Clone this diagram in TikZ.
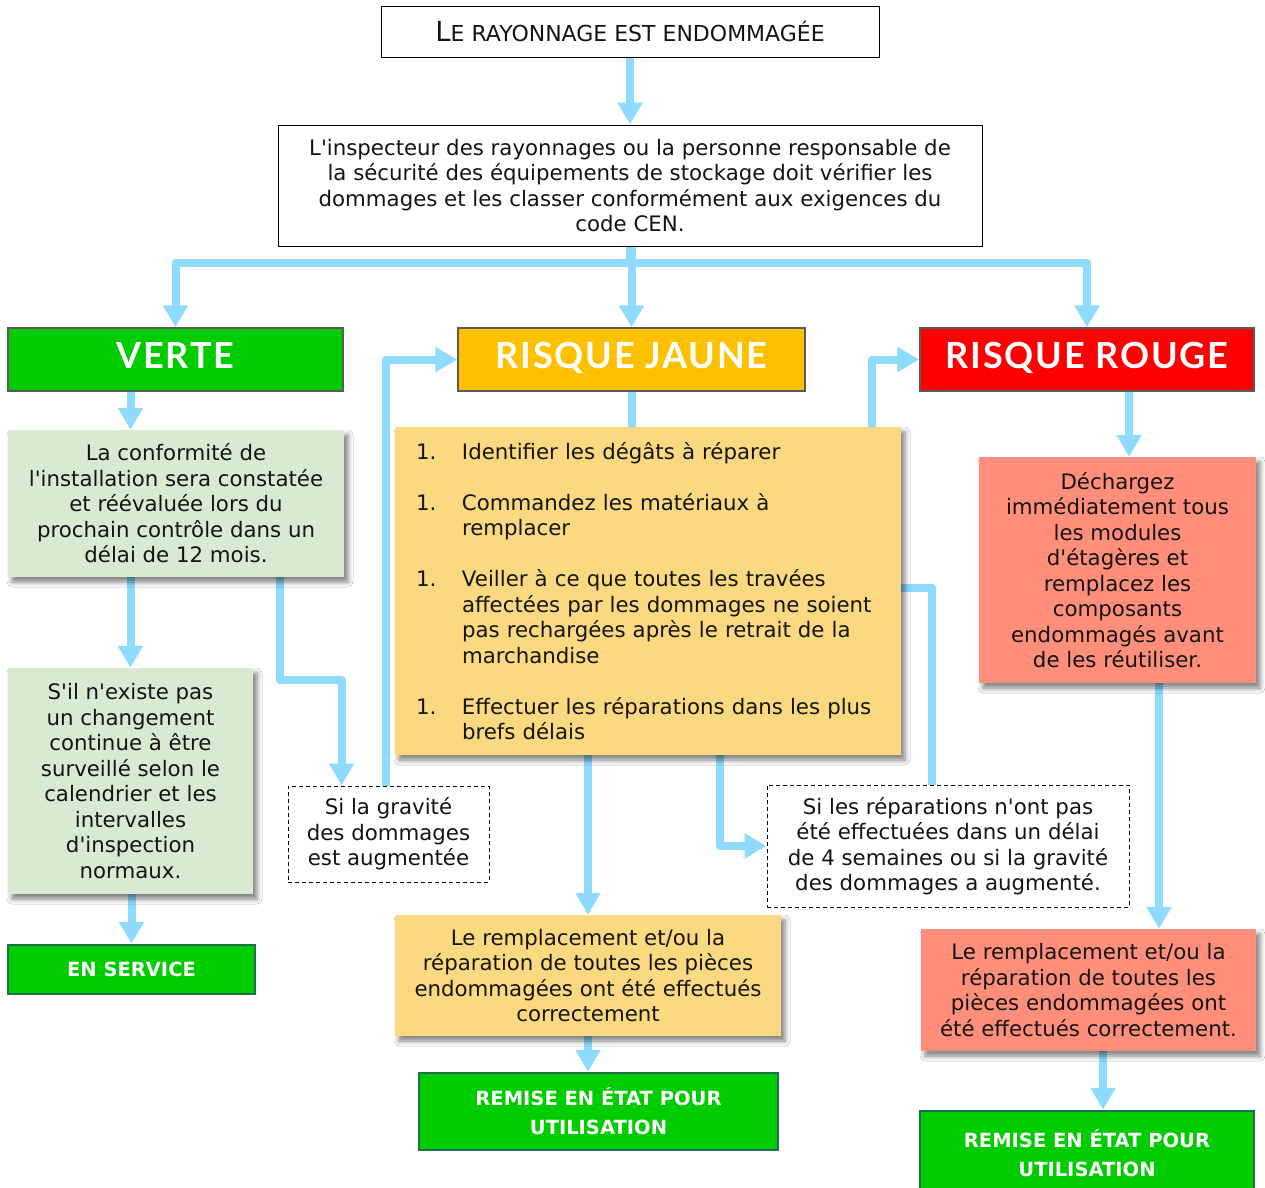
\documentclass[tikz,border=0pt]{standalone}
\usepackage{fontspec}
\setmainfont{DejaVu Sans}[Ligatures=TeXOff]
\newfontfamily\headfont{Lato}[LetterSpace=5]
\usetikzlibrary{arrows.meta,shadows.blur}
\definecolor{arrowblue}{HTML}{8EDBFF}
\definecolor{hdgreen}{HTML}{00CC00}
\definecolor{hdyellow}{HTML}{FFC000}
\definecolor{hdred}{HTML}{FF0000}
\definecolor{pgreen}{HTML}{D9EAD3}
\definecolor{pyellow}{HTML}{FBD980}
\definecolor{pred}{HTML}{FF8F7A}
\definecolor{hdborder}{HTML}{5A5A5A}
\definecolor{dkgreen}{HTML}{1E6F50}
\definecolor{txt}{HTML}{141414}
\pgfdeclarelayer{bg}
\pgfsetlayers{bg,main}
\begin{document}
\begin{tikzpicture}[x=1pt,y=-1pt,
  box/.style={rectangle, inner sep=0pt, align=center, text=txt,
    font=\fontsize{21.3}{25.5}\selectfont},
  plainbox/.style={box, draw=black, line width=1pt, fill=white},
  pastel/.style={box, blur shadow={shadow xshift=4pt, shadow yshift=-5pt,
    shadow blur radius=5pt, shadow opacity=50}},
  headbox/.style={rectangle, inner sep=0pt, draw=hdborder, line width=1.5pt, text=white,
    text height=26pt, text depth=8pt,
    font=\headfont\bfseries\fontsize{36}{40}\selectfont},
  donebox/.style={rectangle, inner sep=0pt, fill=hdgreen, draw=dkgreen, line width=2.5pt,
    text=white, align=center, font=\bfseries\fontsize{19.5}{29}\selectfont},
  notebox/.style={box, draw=black, line width=1pt, dash pattern=on 4pt off 3pt, fill=white},
  conn/.style={draw=arrowblue, line width=8pt, line join=round,
    -{Triangle[width=24pt,length=22pt]}},
  link/.style={draw=arrowblue, line width=8pt, line join=round}
]
\useasboundingbox (0,0) rectangle (1265,1187);

% title and inspector
\node[plainbox, minimum width=498pt, minimum height=51pt] (T) at (630,31.5)
  {{\fontsize{27.5}{30}\selectfont L}{\fontsize{22}{30}\selectfont E RAYONNAGE EST ENDOMMAGÉE}};
\node[plainbox, minimum width=704pt, minimum height=121pt] (insp) at (630,185.5)
  {L'inspecteur des rayonnages ou la personne responsable de\\
   la sécurité des équipements de stockage doit vérifier les\\
   dommages et les classer conformément aux exigences du\\
   code CEN.};

% headers
\node[headbox, fill=hdgreen, minimum width=335pt, minimum height=63pt] (V) at (175.5,359.5) {VERTE};
\node[headbox, fill=hdyellow, minimum width=347pt, minimum height=63pt] (J) at (631.5,359.5) {RISQUE JAUNE};
\node[headbox, fill=hdred, minimum width=334pt, minimum height=63pt] (R) at (1087,359.5) {RISQUE ROUGE};

% green column
\node[pastel, fill=pgreen, minimum width=336pt, minimum height=147pt] (g1) at (176,503.5)
  {La conformité de\\ l'installation sera constatée\\ et réévaluée lors du\\
   prochain contrôle dans un\\ délai de 12 mois.};
\node[pastel, fill=pgreen, minimum width=245pt, minimum height=226pt] (g2) at (130.5,781)
  {S'il n'existe pas\\ un changement\\ continue à être\\ surveillé selon le\\
   calendrier et les\\ intervalles\\ d'inspection\\ normaux.};
\node[donebox, minimum width=247pt, minimum height=49pt] (ES) at (131.5,969.5) {EN SERVICE};

% notes
\node[notebox, minimum width=201pt, minimum height=96pt] (d1) at (388.5,834)
  {Si la gravité\\ des dommages\\ est augmentée};
\node[notebox, minimum width=362pt, minimum height=122pt] (d2) at (948,846)
  {Si les réparations n'ont pas\\ été effectuées dans un délai\\
   de 4 semaines ou si la gravité\\ des dommages a augmenté.};

% yellow column
\node[pastel, fill=pyellow, minimum width=506pt, minimum height=328pt,
      text width=464pt, align=left] (list) at (648,591)
  {\makebox[46pt][l]{1.}Identifier les dégâts à réparer\\[25.5pt]
   \makebox[46pt][l]{1.}Commandez les matériaux à\\
   \hspace*{46pt}remplacer\\[25.5pt]
   \makebox[46pt][l]{1.}Veiller à ce que toutes les travées\\
   \hspace*{46pt}affectées par les dommages ne soient\\
   \hspace*{46pt}pas rechargées après le retrait de la\\
   \hspace*{46pt}marchandise\\[25.5pt]
   \makebox[46pt][l]{1.}Effectuer les réparations dans les plus\\
   \hspace*{46pt}brefs délais};
\node[pastel, fill=pyellow, minimum width=386pt, minimum height=121pt] (repl) at (588,975.5)
  {Le remplacement et/ou la\\ réparation de toutes les pièces\\
   endommagées ont été effectués\\ correctement};
\node[donebox, minimum width=359pt, minimum height=77pt] (RM1) at (598.5,1111.5)
  {REMISE EN ÉTAT POUR\\ UTILISATION};

% red column
\node[pastel, fill=pred, minimum width=277pt, minimum height=226pt] (r1) at (1117.5,570)
  {Déchargez\\ immédiatement tous\\ les modules\\ d'étagères et\\ remplacez les\\
   composants\\ endommagés avant\\ de les réutiliser.};
\node[pastel, fill=pred, minimum width=335pt, minimum height=122pt] (r2) at (1088.5,990)
  {Le remplacement et/ou la\\ réparation de toutes les\\ pièces endommagées ont\\
   été effectués correctement.};
\node[donebox, minimum width=334pt, minimum height=84pt] (RM2) at (1087,1153)
  {REMISE EN ÉTAT POUR\\ UTILISATION};

% connectors
\begin{pgfonlayer}{bg}
\fill[white] (0,0) rectangle (1265,1187);
\draw[conn] (T.south) -- (insp.north);
\draw[conn] (insp.south -| J.north) -- (J.north);
\draw[conn] (insp.south) -- ++(0,16) -| (V.north);
\draw[conn] (insp.south) -- ++(0,16) -| (R.north);
\draw[conn] (V.south -| g2.north) -- (g1.north -| g2.north);
\draw[conn] (g1.south -| g2.north) -- (g2.north);
\draw[conn] (g2.south -| ES.north) -- (ES.north);
\draw[conn] ([xshift=104pt]g1.south) -- ++(0,103) -| ([xshift=-47pt]d1.north);
\draw[conn] ([xshift=-2.5pt]d1.north) |- (J.west);
\draw[link] (J.south) -- (J.south |- list.center);
\draw[conn] ([xshift=-16pt]d2.north) -- ++(0,-197) -- ++(-60,0) |- (R.west);
\draw[conn] (list.south -| repl.north) -- (repl.north);
\draw[conn] ([xshift=72pt]list.south) |- (d2.west);
\draw[conn] (repl.south) -- (repl.south |- RM1.north);
\draw[conn] ([xshift=42pt]R.south) -- ([xshift=42pt]R.south |- r1.north);
\draw[conn] ([xshift=41.5pt]r1.south) -- ([xshift=41.5pt]r1.south |- r2.north);
\draw[conn] ([xshift=14.5pt]r2.south) -- ([xshift=14.5pt]r2.south |- RM2.north);
\end{pgfonlayer}
\end{tikzpicture}
\end{document}
